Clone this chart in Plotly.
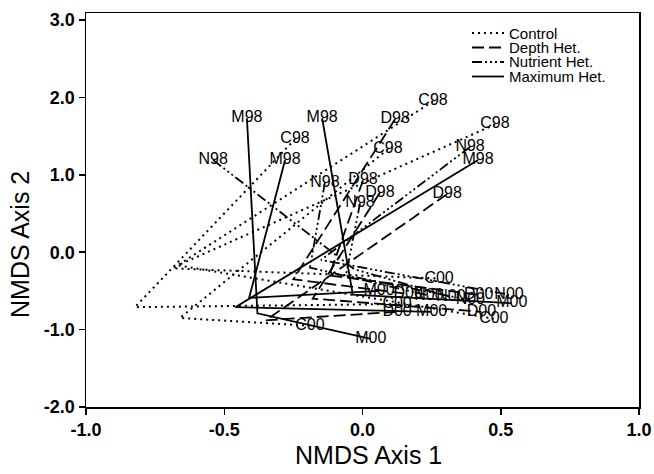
import plotly.graph_objects as go

# ---- data (NMDS scores: 1998 start, 1999 vertex, 2000 end) ----
ctrl_x98 = [-0.244, 0.092, 0.255, 0.479]
ctrl_y98 = [1.46, 1.33, 1.95, 1.65]
ctrl_x99 = [-0.823, -0.66, -0.686, -0.668]
ctrl_y99 = [-0.71, -0.85, -0.21, -0.17]
ctrl_x00 = [0.125, -0.19, 0.277, 0.475]
ctrl_y00 = [-0.67, -0.95, -0.34, -0.86]

depth_x98 = [0.118, 0.002, 0.063, 0.306]
depth_y98 = [1.72, 0.93, 0.77, 0.75]
depth_x99 = [-0.25, -0.12, -0.18, -0.35]
depth_y99 = [-0.35, -0.30, -0.60, -0.88]
depth_x00 = [0.165, 0.42, 0.43, 0.125]
depth_y00 = [-0.54, -0.55, -0.77, -0.77]

nut_x98 = [-0.54, 0.389, -0.136, -0.009]
nut_y98 = [1.19, 1.36, 0.90, 0.63]
nut_x99 = [-0.03, -0.15, -0.19, -0.06]
nut_y99 = [-0.22, -0.10, -0.20, -0.30]
nut_x00 = [0.32, 0.53, 0.24, 0.39]
nut_y00 = [-0.58, -0.55, -0.56, -0.62]

max_x98 = [-0.418, -0.146, -0.28, 0.418]
max_y98 = [1.73, 1.73, 1.19, 1.19]
max_x99 = [-0.38, -0.035, -0.41, -0.46]
max_y99 = [-0.79, -0.55, -0.59, -0.71]
max_x00 = [0.03, 0.54, 0.06, 0.25]
max_y00 = [-1.12, -0.66, -0.50, -0.77]

groups = ["Control", "Depth Het.", "Nutrient Het.", "Maximum Het."]
codes = ["C", "D", "N", "M"]

x_ticks = [-1.0, -0.5, 0.0, 0.5, 1.0]
x_ticktext = ["-1.0", "-0.5", "0.0", "0.5", "1.0"]
y_ticks = [-2.0, -1.0, 0.0, 1.0, 2.0, 3.0]
y_ticktext = ["-2.0", "-1.0", "0.0", "1.0", "2.0", "3.0"]

data = {
    "Control": (ctrl_x98, ctrl_y98, ctrl_x99, ctrl_y99, ctrl_x00, ctrl_y00),
    "Depth Het.": (depth_x98, depth_y98, depth_x99, depth_y99, depth_x00, depth_y00),
    "Nutrient Het.": (nut_x98, nut_y98, nut_x99, nut_y99, nut_x00, nut_y00),
    "Maximum Het.": (max_x98, max_y98, max_x99, max_y99, max_x00, max_y00),
}

styles = {
    "Control": dict(dash="2px,4px", width=2),
    "Depth Het.": dict(dash="12px,5px", width=1.8),
    "Nutrient Het.": dict(dash="10px,3px,2px,3px,2px,3px,2px,3px", width=1.8),
    "Maximum Het.": dict(dash="solid", width=1.8),
}

FONT = "Liberation Sans, Arial, sans-serif"

fig = go.Figure()
for g, code in zip(groups, codes):
    x98, y98, x99, y99, x00, y00 = data[g]
    for i in range(len(x98)):
        fig.add_trace(go.Scatter(
            x=[x98[i], x99[i], x00[i]],
            y=[y98[i], y99[i], y00[i]],
            mode="lines+text",
            text=[code + "98", "", code + "00"],
            textposition="middle center",
            textfont=dict(family=FONT, size=16, color="black"),
            line=dict(color="black", **styles[g]),
            name=g,
            showlegend=False,
            hoverinfo="skip",
        ))

# ---- layout geometry (pixels) ----
W, H = 654, 474
ML, MR, MT, MB = 86, 15, 13, 67
pw, ph = W - ML - MR, H - MT - MB
def px(xp):
    return (xp - ML) / pw
def py(yp):
    return (H - MB - yp) / ph

# manual legend
leg_rows = [33, 47.5, 62, 76.5]
for g, yr in zip(groups, leg_rows):
    st = styles[g]
    fig.add_shape(type="line", xref="paper", yref="paper",
                  x0=px(472), x1=px(504), y0=py(yr), y1=py(yr),
                  line=dict(color="black", width=st["width"], dash=st["dash"]))
    fig.add_annotation(xref="paper", yref="paper", x=px(507), y=py(yr),
                       text=g, showarrow=False, xanchor="left", yanchor="middle",
                       font=dict(family=FONT, size=15, color="black"))

# axis titles
fig.add_annotation(xref="paper", yref="paper", x=px(368), y=py(455),
                   text="NMDS Axis 1", showarrow=False, xanchor="center", yanchor="middle",
                   font=dict(family=FONT, size=25, color="black"))
fig.add_annotation(xref="paper", yref="paper", x=px(20), y=py(245),
                   text="NMDS Axis 2", showarrow=False, textangle=-90,
                   xanchor="center", yanchor="middle",
                   font=dict(family=FONT, size=25, color="black"))

axis_common = dict(
    showline=True, linecolor="black", linewidth=1.5, mirror=True,
    ticks="outside", ticklen=6, tickwidth=1.5, tickcolor="black",
    showgrid=False, zeroline=False, automargin=False,
    tickfont=dict(family=FONT, size=18, color="black", weight="bold"),
)

fig.update_layout(
    width=W, height=H,
    margin=dict(l=ML, r=MR, t=MT, b=MB, autoexpand=False),
    plot_bgcolor="white", paper_bgcolor="white",
    xaxis=dict(range=[-1, 1], tickvals=x_ticks, ticktext=x_ticktext, **axis_common),
    yaxis=dict(range=[-2, 3.09], tickvals=y_ticks, ticktext=y_ticktext, **axis_common),
    showlegend=False,
)

fig.write_html("out.html",
               config={"displayModeBar": False, "staticPlot": True},
               post_script="document.body.style.margin='0px';document.body.style.overflow='hidden';")
